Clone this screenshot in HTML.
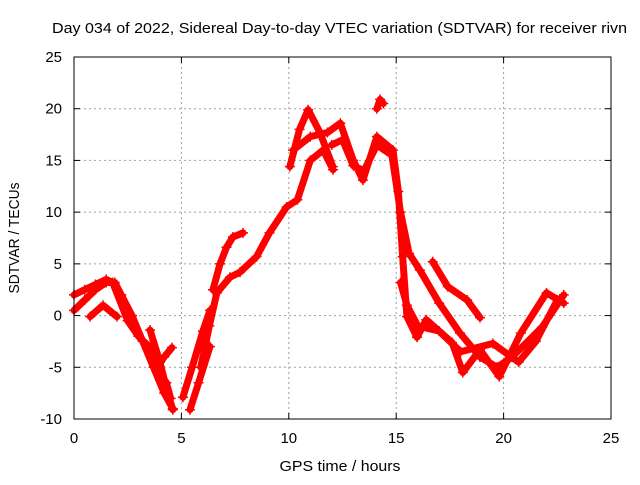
<!DOCTYPE html>
<html><head><meta charset="utf-8"><style>
body{margin:0;background:#fff}
svg text{font-family:"Liberation Sans",sans-serif;font-size:15px;fill:#000}
</style></head><body>
<svg width="640" height="480" id="c">
<rect width="640" height="480" fill="#fff"/>
<text x="339.5" y="33" text-anchor="middle" textLength="575" lengthAdjust="spacingAndGlyphs">Day 034 of 2022, Sidereal Day-to-day VTEC variation (SDTVAR) for receiver rivn</text>
<text x="340" y="471" text-anchor="middle" textLength="121" lengthAdjust="spacingAndGlyphs">GPS time / hours</text>
<text x="0" y="0" transform="translate(19,238) rotate(-90)" text-anchor="middle" textLength="111" lengthAdjust="spacingAndGlyphs">SDTVAR / TECUs</text>
<g id="grid"></g><g id="series"></g>
<rect x="74" y="57" width="537" height="362" fill="none" stroke="#000" stroke-width="1"/>
<g id="ticks"></g>
</svg>
<script>
const xTicks=[0,5,10,15,20,25];
const yTicks=[-10,-5,0,5,10,15,20,25];
const s1=[[0,0.5],[0.5,1.5],[1,2.5],[1.5,3.2],[1.9,3.2],[2.2,2],[2.7,0],[3.2,-2.5],[3.7,-5],[4.2,-7.5],[4.6,-9]];
const s2=[[0,2],[0.5,2.5],[1,3],[1.5,3.5],[1.8,3.2],[2.5,-0.5],[3,-2],[3.5,-3],[3.8,-5],[4.3,-6.5],[4.5,-8]];
const s3=[[0.75,-0.1],[1.35,1],[2,-0.1]];
const s4=[[3.54,-1.4],[4,-4.5],[4.3,-7],[4.6,-9.1]];
const s5=[[3.86,-5],[4.2,-4],[4.56,-3.1]];
const s6=[[5.07,-7.9],[5.5,-5],[6,-1.5],[6.33,0.5]];
const s7=[[5.4,-9.1],[5.8,-6.5],[6.33,-3]];
const s8=[[6.47,2.5],[6.8,5],[7.1,6.6],[7.4,7.6],[7.87,8.0]];
const s9=[[5.9,-5],[6.3,-1],[6.65,2.2],[7.26,3.7],[7.73,4.2],[8.5,5.7],[9.1,8],[9.9,10.5],[10.4,11.2],[11,15],[11.6,16],[12.06,14.1]];
const s10=[[10.05,14.4],[10.5,18],[10.9,19.9],[11.45,17.7],[12.05,14.4]];
const s11=[[10.2,16],[11,17.3],[11.8,17.7],[12.4,18.6],[13,15],[13.45,13.1],[14.1,17.3],[14.85,16],[15.1,12],[15.3,5.7],[15.5,-0.1],[15.97,-2.1],[16.4,-0.4],[17.6,-2.6],[18.1,-5.5],[18.9,-3.3],[19.8,-5.9],[20.8,-1.7],[22.0,2.2],[22.8,1.2]];
const s12=[[12,16.5],[12.5,17],[13,14.5],[13.5,14],[14.1,16.5],[14.8,15.5],[15.2,10],[15.6,6],[16.1,4.4],[17.0,1.2],[17.97,-1.7],[18.9,-4],[19.7,-5],[20.4,-4],[21.8,-1.1],[22.8,2]];
const s13=[[16.7,5.2],[17.4,2.8],[18.3,1.5],[18.9,-0.2]];
const s14=[[15.2,3.2],[15.5,1],[16,-1],[17,-1.5],[18,-3.5],[19.5,-2.7],[20.7,-4.5],[21.5,-2.5],[22.5,1.5]];
const s15=[[14.1,20],[14.25,20.9],[14.4,20.5]];
const seriesList=[s1,s2,s3,s4,s5,s6,s7,s8,s9,s10,s11,s12,s13,s14,s15];
const X=v=>74+v*537/25, Y=v=>419-(v+10)*362/35;
const NS='http://www.w3.org/2000/svg';
const grid=document.getElementById('grid'),ticks=document.getElementById('ticks'),ser=document.getElementById('series');
function mk(t,a,p){const e=document.createElementNS(NS,t);for(const k in a)e.setAttribute(k,a[k]);p.appendChild(e);return e;}
xTicks.forEach(t=>{
 if(t>0&&t<25){const g=mk('line',{x1:X(t),x2:X(t),y1:57,y2:419,stroke:'#a0a0a0','stroke-dasharray':'2,3'},grid);
 
 }
 mk('line',{x1:X(t),x2:X(t),y1:419,y2:413,stroke:'#000'},ticks);
 mk('line',{x1:X(t),x2:X(t),y1:57,y2:63,stroke:'#000'},ticks);
 const tx=mk('text',{x:X(t),y:443,'text-anchor':'middle'},ticks);tx.textContent=t;
 
 
});
yTicks.forEach(t=>{
 if(t>-10&&t<25){const g=mk('line',{x1:74,x2:611,y1:Y(t),y2:Y(t),stroke:'#a0a0a0','stroke-dasharray':'2,3'},grid);
 
 }
 mk('line',{x1:74,x2:80,y1:Y(t),y2:Y(t),stroke:'#000'},ticks);
 mk('line',{x1:611,x2:605,y1:Y(t),y2:Y(t),stroke:'#000'},ticks);
 const tx=mk('text',{x:62,y:Y(t)+5,'text-anchor':'end'},ticks);tx.textContent=t;
 
 
});
seriesList.forEach(s=>{
 const pl=mk('polyline',{points:s.map(p=>X(p[0])+','+Y(p[1])).join(' '),fill:'none',stroke:'#ff0000','stroke-width':7,'stroke-linejoin':'round','stroke-linecap':'round'},ser);
 
 
 s.forEach(p=>{
  const m=mk('path',{d:`M${X(p[0])-5},${Y(p[1])}h10M${X(p[0])},${Y(p[1])-5}v10`,stroke:'#ff0000','stroke-width':1.5},ser);
  
  
 });
});
</script>
</body></html>
